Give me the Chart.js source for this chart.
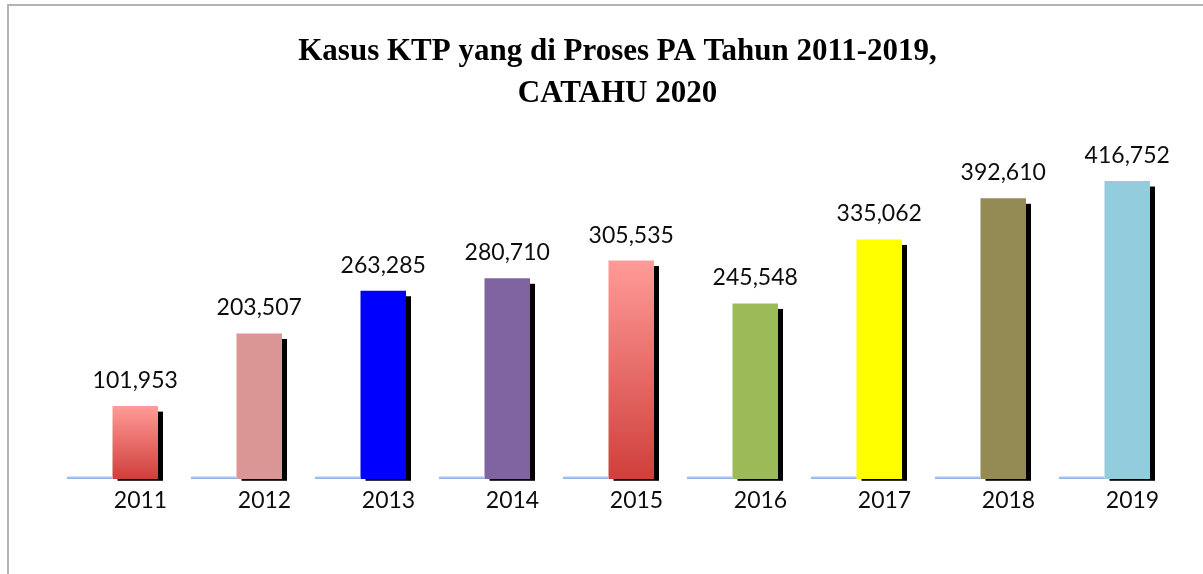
<!DOCTYPE html>
<html>
<head>
<meta charset="utf-8">
<title>Kasus KTP yang di Proses PA Tahun 2011-2019</title>
<script src="https://cdn.jsdelivr.net/npm/chart.js@4.4.1/dist/chart.umd.min.js"></script>
<style>
  html, body { margin: 0; padding: 0; background: #ffffff; }
  #wrap { position: relative; width: 1203px; height: 574px; overflow: hidden; }
  #wrap canvas { display: block; }
  /* light grey frame around the chart box */
  #frame {
    position: absolute; left: 7px; top: 4px; right: -4px; bottom: -4px;
    border-left: 2px solid #b3b3b3; border-top: 2px solid #b3b3b3;
    pointer-events: none;
  }
</style>
</head>
<body>
<div id="wrap">
  <canvas id="chart" width="1203" height="574"></canvas>
  <div id="frame"></div>
</div>
<script>
// Years on the category axis
const years = ['2011', '2012', '2013', '2014', '2015', '2016', '2017', '2018', '2019'];
// Cases handled by the Religious Courts (PA) per year
const cases = [101953, 203507, 263285, 280710, 305535, 245548, 335062, 392610, 416752];
// Companion series that sits flat on the baseline
const baseSeries = [0, 0, 0, 0, 0, 0, 0, 0, 0];
// Title lines
const titleLines = ['Kasus KTP yang di Proses PA Tahun 2011-2019,', 'CATAHU 2020'];

// Fill per bar; null means the red fade
const barColors = [null, '#D99694', '#0000FF', '#8064A2', null, '#9BBB59', '#FFFF00', '#948A54', '#93CDDD'];

function barFill(c) {
  if (c.type !== 'data') return '#cccccc';
  const col = barColors[c.dataIndex];
  if (col) return col;
  const chart = c.chart;
  const y = chart.scales && chart.scales.y;
  if (!chart.chartArea || !y) return '#E57373';
  const top = y.getPixelForValue(cases[c.dataIndex]);
  const bottom = y.getPixelForValue(0);
  const g = chart.ctx.createLinearGradient(0, top, 0, bottom);
  g.addColorStop(0, '#FF9B98');
  g.addColorStop(1, '#CF3F3B');
  return g;
}

// Two-tone fill for the flat baseline bars
function baseFill(c) {
  const chart = c.chart;
  const y = chart.scales && chart.scales.y;
  if (!chart.chartArea || !y) return '#6F99DD';
  const zero = y.getPixelForValue(0);
  const g = chart.ctx.createLinearGradient(0, zero - 1.5, 0, zero + 1);
  g.addColorStop(0, '#A9C4EE');
  g.addColorStop(0.45, '#8FB1E8');
  g.addColorStop(0.55, '#5586D6');
  g.addColorStop(1, '#4A7DD2');
  return g;
}

// Black drop shadow behind each value bar
const barShadow = {
  id: 'barShadow',
  beforeDatasetsDraw(chart) {
    const meta = chart.getDatasetMeta(1);
    const ctx = chart.ctx;
    ctx.save();
    ctx.fillStyle = '#000000';
    meta.data.forEach((bar) => {
      const p = bar.getProps(['x', 'y', 'base', 'width'], true);
      const top = p.y + 5.5;
      const bottom = p.base + 1.8;
      ctx.fillRect(p.x - p.width / 2 + 5, top, p.width, bottom - top);
    });
    ctx.restore();
  }
};

// Value labels above the bars
const valueLabels = {
  id: 'valueLabels',
  afterDatasetsDraw(chart) {
    const meta = chart.getDatasetMeta(1);
    const ctx = chart.ctx;
    ctx.save();
    ctx.font = '23px Lato';
    ctx.fillStyle = '#0d0d0d';
    ctx.textAlign = 'center';
    ctx.textBaseline = 'alphabetic';
    meta.data.forEach((bar, i) => {
      const p = bar.getProps(['x', 'y'], true);
      ctx.fillText(cases[i].toLocaleString('en-US'), p.x, p.y - 18);
    });
    ctx.restore();
  }
};

new Chart(document.getElementById('chart'), {
  type: 'bar',
  data: {
    labels: years,
    datasets: [
      {
        label: 'base',
        data: baseSeries,
        backgroundColor: baseFill,
        minBarLength: 2.5,
        barPercentage: 1,
        categoryPercentage: 0.734
      },
      {
        label: 'Kasus KTP',
        data: cases,
        backgroundColor: barFill,
        barPercentage: 1,
        categoryPercentage: 0.734
      }
    ]
  },
  options: {
    responsive: false,
    animation: false,
    devicePixelRatio: 1,
    layout: { padding: { left: 50.5, right: 18.5, top: 0, bottom: 0 } },
    plugins: {
      legend: { display: false },
      tooltip: { enabled: false },
      title: {
        display: true,
        text: titleLines,
        color: '#000000',
        font: { family: '"Liberation Serif", serif', size: 31, weight: 'bold', lineHeight: 1.355 },
        padding: { top: 30.7, bottom: 6.8 }
      }
    },
    scales: {
      x: {
        type: 'category',
        grid: { display: false, drawTicks: false },
        border: { display: false },
        ticks: {
          color: '#0d0d0d',
          font: { family: 'Lato', size: 23 },
          padding: 8,
          labelOffset: 28,
          maxRotation: 0,
          autoSkip: false
        },
        afterFit(scale) { scale.height = 95; }
      },
      y: {
        position: 'right',
        min: 0,
        max: 500000,
        grid: { display: false, drawTicks: false },
        border: { display: false },
        ticks: { display: false },
        afterFit(scale) { scale.width = 18; }
      }
    }
  },
  plugins: [barShadow, valueLabels]
});
</script>
</body>
</html>
